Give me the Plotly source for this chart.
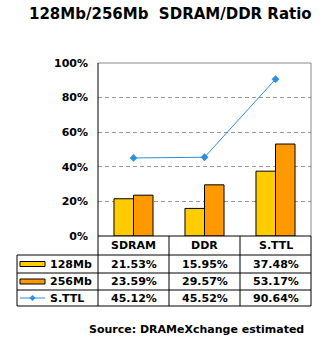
import plotly.graph_objects as go

# Data (percent)
categories = ["SDRAM", "DDR", "S.TTL"]
mb128 = [21.53, 15.95, 37.48]
mb256 = [23.59, 29.57, 53.17]
sttl = [45.12, 45.52, 90.64]
series_names = ["128Mb", "256Mb", "S.TTL"]
y_ticks = [0, 20, 40, 60, 80, 100]
y_tick_labels = [f"{v}%" for v in y_ticks]

W, H = 323, 343
PL, PR, PT, PB = 98, 311, 63, 236  # plot area in pixels

YELLOW = "#FFCC00"
ORANGE = "#FF9900"
BLUE = "#2F8FD8"
FONT = "DejaVu Sans"


def px(x):
    return (x - PL) / (PR - PL)


def py(y):
    return (PB - y) / (PB - PT)


fig = go.Figure()
fig.add_bar(x=categories, y=mb128, name=series_names[0], marker=dict(color=YELLOW, line=dict(color="black", width=1)))
fig.add_bar(x=categories, y=mb256, name=series_names[1], marker=dict(color=ORANGE, line=dict(color="black", width=1)))
fig.add_scatter(x=categories, y=sttl, name=series_names[2], mode="lines+markers",
                line=dict(color=BLUE, width=1), marker=dict(symbol="diamond", size=6, color=BLUE))

shapes = []


def hline(y, x0, x1, color="black", dash="solid"):
    shapes.append(dict(type="line", xref="paper", yref="paper", x0=px(x0), x1=px(x1), y0=py(y), y1=py(y),
                       line=dict(color=color, width=1, dash=dash), layer="above"))


def vline(x, y0, y1, color="black"):
    shapes.append(dict(type="line", xref="paper", yref="paper", x0=px(x), x1=px(x), y0=py(y0), y1=py(y1),
                       line=dict(color=color, width=1), layer="above"))


# plot frame
hline(PT, PL, PR, color="#888888")
vline(PR, PT, PB, color="#888888")
vline(PL, PT, PB)
hline(PB, PL, PR)

# data table grid
TL = 17
rows = [255, 273, 290, 306]
cols = [PL, 169, 240, PR]
for r in rows:
    hline(r, TL, PR)
vline(TL, rows[0], rows[-1])
for c in cols:
    vline(c, PB, rows[-1])

# legend keys inside the table
key_x0, key_x1 = 20, 45
row_centers = [(rows[i] + rows[i + 1]) / 2 for i in range(3)]
for color, yc in zip([YELLOW, ORANGE], row_centers[:2]):
    shapes.append(dict(type="rect", xref="paper", yref="paper", x0=px(key_x0), x1=px(key_x1),
                       y0=py(yc + 2.5), y1=py(yc - 2.5), fillcolor=color,
                       line=dict(color="black", width=1), layer="above"))
yc = row_centers[2]
hline(yc, key_x0, key_x1, color=BLUE)
dx, dy = 3, 3
mx = (key_x0 + key_x1) / 2
shapes.append(dict(type="path", xref="paper", yref="paper",
                   path=f"M{px(mx - dx)},{py(yc)} L{px(mx)},{py(yc - dy)} L{px(mx + dx)},{py(yc)} L{px(mx)},{py(yc + dy)} Z",
                   fillcolor=BLUE, line=dict(color=BLUE, width=0), layer="above"))

annotations = []
bold = dict(family=FONT, size=11, color="black", weight="bold")

# category header row
header_y = (PB + rows[0]) / 2
for cat in categories:
    annotations.append(dict(x=cat, y=py(header_y), xref="x", yref="paper", text=cat, showarrow=False,
                            font=bold, xanchor="center", yanchor="middle"))

# value rows
for name, vals, yc in zip(series_names, [mb128, mb256, sttl], row_centers):
    annotations.append(dict(x=px(48), y=py(yc), xref="paper", yref="paper", text=name, showarrow=False,
                            font=bold, xanchor="left", yanchor="middle"))
    for cat, v in zip(categories, vals):
        annotations.append(dict(x=cat, y=py(yc), xref="x", yref="paper", text=f"{v:.2f}%", showarrow=False,
                                font=bold, xanchor="center", yanchor="middle"))

# title and source
annotations.append(dict(x=px(170), y=py(14), xref="paper", yref="paper",
                        text="128Mb/256Mb\u00a0\u00a0SDRAM/DDR Ratio", showarrow=False,
                        font=dict(family=FONT, size=15, color="black", weight="bold"),
                        xanchor="center", yanchor="middle"))
annotations.append(dict(x=px(306), y=py(329), xref="paper", yref="paper",
                        text="Source: DRAMeXchange estimated", showarrow=False,
                        font=bold, xanchor="right", yanchor="middle"))

fig.update_layout(
    width=W, height=H,
    margin=dict(l=PL, r=W - PR, t=PT, b=H - PB, pad=0),
    paper_bgcolor="white", plot_bgcolor="white",
    showlegend=False,
    barmode="group", bargap=0.45, bargroupgap=0,
    xaxis=dict(showticklabels=False, showgrid=False, zeroline=False, showline=False, ticks=""),
    yaxis=dict(range=[0, 100], tickvals=y_ticks, ticktext=y_tick_labels, showgrid=True,
               gridcolor="#999999", griddash="4px,3px", gridwidth=1, zeroline=False, showline=False,
               ticks="", tickfont=bold, ticklabelstandoff=9),
    shapes=shapes, annotations=annotations,
)

fig.write_html("out.html")
